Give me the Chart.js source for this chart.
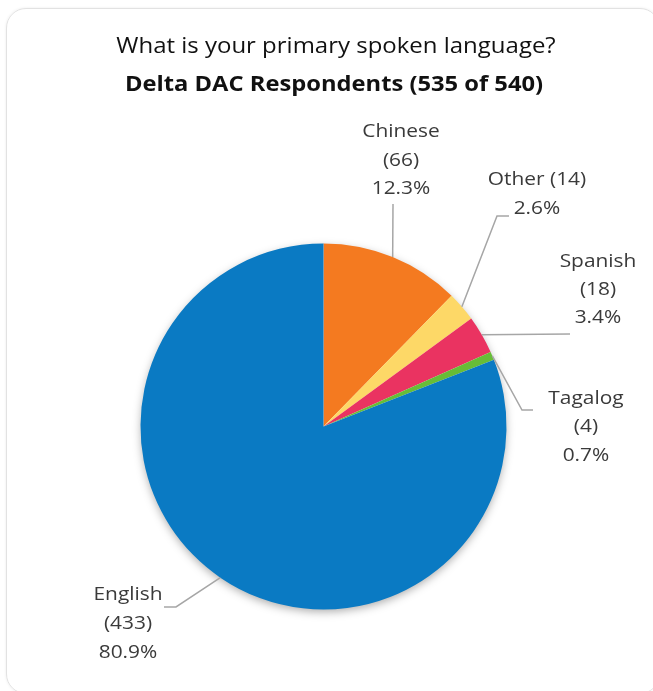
<!DOCTYPE html>
<html>
<head>
<meta charset="utf-8">
<script src="https://cdn.jsdelivr.net/npm/chart.js@4.4.1/dist/chart.umd.min.js"></script>
<style>
    html, body { margin: 0; padding: 0; background: #fff; overflow: hidden; }
    .card {
        position: absolute; left: 6px; top: 8px; width: 652px; height: 684px;
        border: 1.5px solid #e2e2e2; border-radius: 20px;
        box-shadow: 0 0 3px rgba(0, 0, 0, 0.08);
    }
    #wrap { position: absolute; left: 0; top: 0; width: 653px; height: 691px; }
</style>
</head>
<body>
<div class="card"></div>
<div id="wrap"><canvas id="langChart" width="653" height="691"></canvas></div>
<script>
// --- Données du sondage ---
const languages = ['Chinese', 'Other', 'Spanish', 'Tagalog', 'English'];
const counts = [66, 14, 18, 4, 433];
const sliceColors = ['#F47A20', '#FDD867', '#EA3361', '#67BD37', '#0A7AC3'];

const titleText = 'What is your primary spoken language?';
const subtitleText = 'Delta DAC Respondents (535 of 540)';

const total = counts.reduce((a, b) => a + b, 0);

// Placement des étiquettes (texte centré en x, lignes de base) et coudes des traits de rappel
const labelLayout = {
    Chinese: { x: 401, baselines: [137, 166, 194], split: true, leader: [[393, 204]] },
    Other:   { x: 537, baselines: [185, 214], split: false, leader: [[497, 216], [509, 216]] },
    Spanish: { x: 598, baselines: [267, 295, 323], split: true, leader: [[570, 334]] },
    Tagalog: { x: 586, baselines: [404, 432, 461], split: true, leader: [[522, 410], [533, 410]] },
    English: { x: 128, baselines: [600, 629, 658], split: true, leader: [[176, 607], [164, 607]] }
};

const fontFamily = '"Open Sans", Lato, sans-serif';
const labelFont = '19px ' + fontFamily;

function labelLines(i) {
    const name = languages[i];
    const pct = (counts[i] / total * 100).toFixed(1) + '%';
    if (labelLayout[name].split) {
        return [name, '(' + counts[i] + ')', pct];
    }
    return [name + ' (' + counts[i] + ')', pct];
}

// Texte centré, légèrement élargi horizontalement
function wideText(ctx, text, cx, y, sx) {
    ctx.save();
    ctx.translate(cx, y);
    ctx.scale(sx, 1);
    ctx.fillText(text, 0, 0);
    ctx.restore();
}

// Ombre sous le disque + étiquettes avec traits de rappel
const pieDecor = {
    id: 'pieDecor',
    beforeDatasetsDraw(chart) {
        const arc = chart.getDatasetMeta(0).data[0];
        const ctx = chart.ctx;
        ctx.save();
        ctx.shadowColor = 'rgba(0, 0, 0, 0.35)';
        ctx.shadowBlur = 10;
        ctx.shadowOffsetY = 3;
        ctx.fillStyle = '#ffffff';
        ctx.beginPath();
        ctx.arc(arc.x, arc.y, arc.outerRadius - 1, 0, Math.PI * 2);
        ctx.fill();
        ctx.restore();
    },
    afterDatasetsDraw(chart) {
        const ctx = chart.ctx;
        const meta = chart.getDatasetMeta(0);
        ctx.save();
        meta.data.forEach((arc, i) => {
            const layout = labelLayout[languages[i]];
            const mid = (arc.startAngle + arc.endAngle) / 2;
            const px = arc.x + Math.cos(mid) * arc.outerRadius;
            const py = arc.y + Math.sin(mid) * arc.outerRadius;

            ctx.strokeStyle = '#A6A6A6';
            ctx.lineWidth = 1.5;
            ctx.beginPath();
            ctx.moveTo(px, py);
            layout.leader.forEach(p => ctx.lineTo(p[0], p[1]));
            ctx.stroke();

            ctx.fillStyle = '#3a3a3a';
            ctx.font = labelFont;
            ctx.textAlign = 'center';
            ctx.textBaseline = 'alphabetic';
            labelLines(i).forEach((line, k) => {
                wideText(ctx, line, layout.x, layout.baselines[k], 1.1);
            });
        });

        // Titre et sous-titre
        ctx.fillStyle = '#111111';
        ctx.textAlign = 'center';
        ctx.font = '22px ' + fontFamily;
        wideText(ctx, titleText, 336, 53, 1.09);
        ctx.font = 'bold 21px ' + fontFamily;
        wideText(ctx, subtitleText, 334, 91, 1.13);
        ctx.restore();
    }
};

new Chart(document.getElementById('langChart'), {
    type: 'pie',
    data: {
        labels: languages,
        datasets: [{
            data: counts,
            backgroundColor: sliceColors,
            borderWidth: 0
        }]
    },
    options: {
        responsive: false,
        animation: false,
        layout: { padding: { left: 140.5, right: 146.5, top: 243.5, bottom: 81.5 } },
        plugins: {
            legend: { display: false },
            tooltip: { enabled: false },
            title: { display: false }
        }
    },
    plugins: [pieDecor]
});
</script>
</body>
</html>
